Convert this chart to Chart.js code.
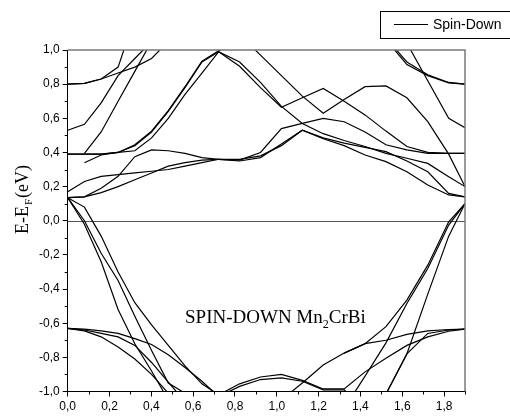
<!DOCTYPE html>
<html lang="en">
<head>
    <meta charset="UTF-8">
    <title>SPIN-DOWN Mn2CrBi</title>
    <style>
        body { margin: 0; padding: 0; background: #fff; }
        .wrap { width: 510px; height: 417px; position: relative; }
    </style>
</head>
<body>
    <div class="wrap"><canvas id="bands"></canvas></div>

    <script src="https://cdn.jsdelivr.net/npm/chart.js"></script>
    <script>
        // k-path positions of the computed points
        const kPath = [0, 0.080, 0.160, 0.241, 0.321, 0.401, 0.481, 0.561, 0.642, 0.722,
                       0.822, 0.922, 1.022, 1.122, 1.222, 1.322, 1.422, 1.522, 1.622, 1.722, 1.822, 1.9];

        const xTicks = [0, 0.2, 0.4, 0.6, 0.8, 1.0, 1.2, 1.4, 1.6, 1.8];
        const yTicks = [-1, -0.8, -0.6, -0.4, -0.2, 0, 0.2, 0.4, 0.6, 0.8, 1];

        const seriesLabel = 'Spin-Down';
        const yTitle = ['E-E', 'F', '(eV)'];
        const note = ['SPIN-DOWN Mn', '2', 'CrBi'];

        // energies (eV), one array per band, null where the band is not drawn
        const _ = null;
        const band01 = [0.80, 0.805, 0.83, 0.90, 1.19, _, _, _, _, _, _, _, _, _, _, _, _, _, _, _, _, _];
        const band02 = [0.80, 0.805, 0.83, 0.865, 0.90, 0.95, 1.05, _, _, _, _, _, _, _, _, _, _, _, _, _, _, _];
        const band03 = [0.53, 0.565, 0.69, 0.85, 0.95, 1.05, _, _, _, _, _, _, _, _, _, _, _, _, _, _, _, _];
        const band04 = [_, 0.395, 0.52, 0.70, 0.875, 1.05, _, _, _, _, _, _, _, _, _, _, _, _, _, _, _, _];
        const band05 = [0.39, 0.39, 0.39, 0.40, 0.44, 0.52, 0.64, 0.78, 0.93, 0.99,
                        0.905, 0.78, 0.665, 0.72, 0.775, 0.70, 0.62, 0.525, 0.435, 0.40, 0.395, 0.395];
        const band06 = [0.39, 0.39, 0.39, 0.40, 0.41, 0.485, 0.60, 0.74, 0.865, 0.99,
                        0.93, 0.81, 0.67, 0.57, 0.51, 0.47, 0.435, 0.395, 0.366, 0.336, 0.258, 0.20];
        const band07 = [_, 0.34, 0.385, 0.40, 0.445, 0.525, 0.645, 0.785, 0.935, 0.995,
                        1.06, _, _, _, _, _, _, _, _, _, _, _];
        const band08 = [_, _, _, _, _, _, _, _, _, 1.21,
                        1.09, 0.97, 0.85, 0.73, 0.63, 0.71, 0.785, 0.79, 0.72, 0.58, 0.39, 0.20];
        const band09 = [0.17, 0.23, 0.26, 0.27, 0.28, 0.29, 0.30, 0.32, 0.34, 0.36,
                        0.355, 0.40, 0.54, 0.57, 0.60, 0.58, 0.52, 0.445, 0.415, 0.395, 0.395, 0.395];
        const band10 = [0.135, 0.14, 0.19, 0.26, 0.375, 0.415, 0.41, 0.395, 0.37, 0.36,
                        0.35, 0.37, 0.45, 0.53, 0.485, 0.455, 0.43, 0.405, 0.35, 0.287, 0.16, 0.14];
        const band11 = [0.135, 0.14, 0.165, 0.20, 0.24, 0.28, 0.32, 0.34, 0.355, 0.36,
                        0.36, 0.38, 0.44, 0.53, 0.48, 0.44, 0.385, 0.346, 0.287, 0.209, 0.151, 0.14];
        const band12 = [_, _, _, _, _, _, _, _, _, _, _, _, _, _, _, _, 1.25, 1.07, 0.93, 0.855, 0.81, 0.80];
        const band13 = [_, _, _, _, _, _, _, _, _, _, _, _, _, _, _, _, 1.22, 1.06, 0.915, 0.85, 0.808, 0.80];
        const band14 = [_, _, _, _, _, _, _, _, _, _, _, _, _, _, _, _, _, 1.20, 1.04, 0.82, 0.60, 0.545];
        const band15 = [0.135, 0.08, -0.09, -0.30, -0.48, -0.61, -0.73, -0.85, -0.955, -1.02,
                        -0.955, -0.915, -0.90, -0.935, -0.985, -0.985, -0.885, -0.805, -0.73, -0.68, -0.647, -0.635];
        const band16 = [0.135, -0.02, -0.24, -0.52, -0.72, -0.88, -1.05, -1.15, _, _, _, _, _, _, _, _, _, _, _, _, _, _];
        const band17 = [0.135, 0.0, -0.19, -0.35, -0.56, -0.76, -0.95, -1.01, -1.10, _, _, _, _, _, _, _, _, _, _, _, _, _];
        const band18 = [-0.63, -0.645, -0.68, -0.74, -0.81, -0.90, -1.01, -1.10, _, _, _, _, _, _, _, _, _, _, _, _, _, _];
        const band19 = [-0.63, -0.64, -0.66, -0.68, -0.73, -0.83, -0.945, -1.06, _, _, _, _, _, _, _, _, _, _, _, _, _, _];
        const band20 = [-0.63, -0.635, -0.645, -0.66, -0.69, -0.725, -0.785, -0.86, -0.94, -1.03,
                        -0.97, -0.93, -0.92, -0.94, -0.99, -0.99, -1.10, _, _, _, _, _];
        const band21 = [_, _, _, _, _, _, _, _, _, _, _, -1.15, -1.05, -0.95, -0.845, -0.775, -0.72, -0.70, -0.665, -0.645, -0.637, -0.635];
        const band22 = [_, _, _, _, _, _, _, _, _, _, _, _, _, _, _, -1.10, -0.91, -0.715, -0.485, -0.28, -0.025, 0.10];
        const band23 = [_, _, _, _, _, _, _, _, _, _, _, _, _, _, _, _, -1.22, -1.015, -0.78, -0.43, -0.09, 0.10];
        const band24 = [_, _, _, _, _, _, _, _, _, _, _, _, _, _, _, _, _, -1.015, -0.78, -0.66, -0.64, -0.635];
        const band25 = [_, _, _, _, _, _, _, _, _, _, _, _, _, _, _, -0.775, -0.72, -0.62, -0.465, -0.26, -0.006, 0.10];

        const bands = [band01, band02, band03, band04, band05, band06, band07, band08, band09, band10, band11, band12,
                       band13, band14, band15, band16, band17, band18, band19, band20, band21, band22, band23, band24, band25];

        const fmt = v => (Math.round(v * 10) / 10).toFixed(1).replace('.', ',');

        const datasets = bands.map((b, i) => ({
            label: i === 0 ? seriesLabel : 'band ' + (i + 1),
            data: kPath.map((k, j) => ({ x: k, y: b[j] })),
            borderColor: '#000',
            borderWidth: 1.2,
            pointRadius: 0,
            fill: false,
            tension: 0,
            spanGaps: false
        }));

        // zero line under the bands
        const zeroLine = {
            id: 'zeroLine',
            beforeDatasetsDraw(chart) {
                const { ctx, chartArea } = chart;
                const y = Math.round(chart.scales.y.getPixelForValue(0)) + 0.5;
                ctx.save();
                ctx.strokeStyle = '#555';
                ctx.lineWidth = 1.2;
                ctx.beginPath();
                ctx.moveTo(chartArea.left, y);
                ctx.lineTo(chartArea.right, y);
                ctx.stroke();
                ctx.restore();
            }
        };

        // top/right frame, minor ticks, axis title, note and legend
        const decorations = {
            id: 'decorations',
            afterDraw(chart) {
                const { ctx, chartArea } = chart;
                const xs = chart.scales.x, ys = chart.scales.y;
                ctx.save();

                ctx.strokeStyle = '#7a7a7a';
                ctx.lineWidth = 1.5;
                ctx.beginPath();
                ctx.moveTo(chartArea.left, chartArea.top);
                ctx.lineTo(chartArea.right, chartArea.top);
                ctx.lineTo(chartArea.right, chartArea.bottom);
                ctx.stroke();

                // minor ticks
                ctx.strokeStyle = '#000';
                ctx.lineWidth = 1;
                ctx.beginPath();
                for (let v = 0.1; v < 1.9; v += 0.2) {
                    const px = Math.round(xs.getPixelForValue(v)) + 0.5;
                    ctx.moveTo(px, chartArea.bottom);
                    ctx.lineTo(px, chartArea.bottom + 3);
                }
                for (let v = -0.9; v < 1; v += 0.2) {
                    const py = Math.round(ys.getPixelForValue(v)) + 0.5;
                    ctx.moveTo(chartArea.left, py);
                    ctx.lineTo(chartArea.left - 3, py);
                }
                ctx.stroke();

                // y axis title with subscript
                ctx.fillStyle = '#000';
                ctx.textBaseline = 'alphabetic';
                ctx.save();
                ctx.translate(28, 234);
                ctx.rotate(-Math.PI / 2);
                ctx.font = '18px "Liberation Serif", "Times New Roman", serif';
                let w = ctx.measureText(yTitle[0]).width;
                ctx.fillText(yTitle[0], 0, 0);
                ctx.font = '11px "Liberation Serif", "Times New Roman", serif';
                ctx.fillText(yTitle[1], w + 1, 4);
                w += ctx.measureText(yTitle[1]).width + 2;
                ctx.font = '18px "Liberation Serif", "Times New Roman", serif';
                ctx.fillText(yTitle[2], w, 0);
                ctx.restore();

                // note
                ctx.font = '19px "Liberation Serif", "Times New Roman", serif';
                let nx = 185;
                ctx.fillText(note[0], nx, 323);
                nx += ctx.measureText(note[0]).width;
                ctx.font = '12px "Liberation Serif", "Times New Roman", serif';
                ctx.fillText(note[1], nx, 328);
                nx += ctx.measureText(note[1]).width;
                ctx.font = '19px "Liberation Serif", "Times New Roman", serif';
                ctx.fillText(note[2], nx, 323);

                // legend box
                ctx.strokeStyle = '#000';
                ctx.lineWidth = 1;
                ctx.strokeRect(380.5, 11.5, 140, 27);
                ctx.lineWidth = 1.2;
                ctx.beginPath();
                ctx.moveTo(394, 24.5);
                ctx.lineTo(428, 24.5);
                ctx.stroke();
                ctx.font = '14px "Liberation Sans", Arial, sans-serif';
                ctx.textBaseline = 'middle';
                ctx.fillText(chart.data.datasets[0].label, 433, 25);

                ctx.restore();
            }
        };

        const tickFont = { family: '"Liberation Sans", Arial, sans-serif', size: 12 };

        new Chart(document.getElementById('bands'), {
            type: 'line',
            data: { datasets },
            options: {
                responsive: true,
                maintainAspectRatio: false,
                animation: false,
                layout: { padding: { top: 50, right: 45, left: 0, bottom: 0 } },
                plugins: {
                    legend: { display: false },
                    tooltip: { enabled: false }
                },
                scales: {
                    x: {
                        type: 'linear',
                        min: 0,
                        max: 1.9,
                        afterBuildTicks: s => { s.ticks = xTicks.map(v => ({ value: v })); },
                        afterFit: s => { s.height = 25.5; },
                        grid: { drawOnChartArea: false, tickLength: 5, tickColor: '#000' },
                        border: { color: '#000', width: 1 },
                        ticks: { font: tickFont, color: '#000', padding: 3, maxRotation: 0, callback: v => fmt(v) }
                    },
                    y: {
                        type: 'linear',
                        min: -1,
                        max: 1,
                        afterBuildTicks: s => { s.ticks = yTicks.map(v => ({ value: v })); },
                        afterFit: s => { s.width = 67.7; },
                        grid: { drawOnChartArea: false, tickLength: 5, tickColor: '#000' },
                        border: { color: '#000', width: 1 },
                        ticks: { font: tickFont, color: '#000', padding: 3, callback: v => fmt(v) }
                    }
                }
            },
            plugins: [zeroLine, decorations]
        });
    </script>
</body>
</html>
